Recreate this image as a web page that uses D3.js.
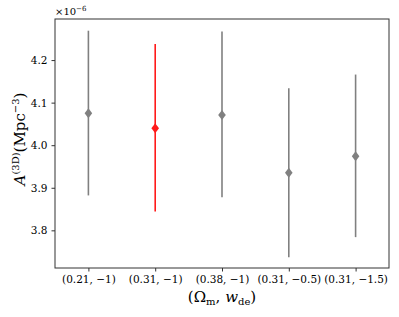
<!DOCTYPE html>
<html>
<head>
<meta charset="utf-8">
<script src="https://cdn.jsdelivr.net/npm/d3@7"></script>
<style>
body { margin: 0; background: #fff; }
text { font-family: "DejaVu Serif", "Liberation Serif", serif; fill: #000; }
</style>
</head>
<body>
<div id="chart"></div>
<script>
const categories = ["(0.21, \u22121)", "(0.31, \u22121)", "(0.38, \u22121)", "(0.31, \u22120.5)", "(0.31, \u22121.5)"];
const values = [4.075, 4.040, 4.071, 3.935, 3.974];
const errLow = [3.882, 3.844, 3.878, 3.737, 3.784];
const errHigh = [4.269, 4.238, 4.267, 4.134, 4.166];
const colors = ["#808080", "#ff1a1a", "#808080", "#808080", "#808080"];
const yTicks = [3.8, 3.9, 4.0, 4.1, 4.2];

const width = 399, height = 317;
const margin = { top: 19, right: 10, bottom: 49, left: 55 };

const svg = d3.select("#chart").append("svg")
    .attr("width", width)
    .attr("height", height);

const x = d3.scaleLinear()
    .domain([-0.5, categories.length - 0.5])
    .range([margin.left, width - margin.right]);

const y = d3.scaleLinear()
    .domain([3.7115, 4.2965])
    .range([height - margin.bottom, margin.top]);

const data = categories.map((c, i) => ({ c, i, v: values[i], lo: errLow[i], hi: errHigh[i], col: colors[i] }));

// error bars
svg.selectAll("line.err")
    .data(data)
    .enter()
    .append("line")
    .attr("class", "err")
    .attr("x1", d => x(d.i))
    .attr("x2", d => x(d.i))
    .attr("y1", d => y(d.lo))
    .attr("y2", d => y(d.hi))
    .attr("stroke", d => d.col)
    .attr("stroke-width", 1.6);

// thin diamond markers
svg.selectAll("path.mark")
    .data(data)
    .enter()
    .append("path")
    .attr("class", "mark")
    .attr("d", "M0,-5L3.8,0L0,5L-3.8,0Z")
    .attr("transform", d => `translate(${x(d.i)},${y(d.v)})`)
    .attr("fill", d => d.col);

// frame
svg.append("rect")
    .attr("x", margin.left)
    .attr("y", margin.top)
    .attr("width", width - margin.right - margin.left)
    .attr("height", height - margin.bottom - margin.top)
    .attr("fill", "none")
    .attr("stroke", "#333")
    .attr("stroke-width", 1);

// x axis
const xAxis = svg.append("g")
    .attr("transform", `translate(0,${height - margin.bottom})`)
    .call(d3.axisBottom(x)
        .tickValues(d3.range(categories.length))
        .tickFormat(i => categories[i])
        .tickSize(3.5)
        .tickPadding(4));
xAxis.select(".domain").remove();
xAxis.selectAll("line").attr("stroke", "#333");
xAxis.selectAll("text").style("font-size", "10.5px");

// y axis
const yAxis = svg.append("g")
    .attr("transform", `translate(${margin.left},0)`)
    .call(d3.axisLeft(y)
        .tickValues(yTicks)
        .tickFormat(d3.format(".1f"))
        .tickSize(3.5)
        .tickPadding(4));
yAxis.select(".domain").remove();
yAxis.selectAll("line").attr("stroke", "#333");
yAxis.selectAll("text").style("font-size", "10.5px");

// offset text
const off = svg.append("text")
    .attr("x", margin.left)
    .attr("y", margin.top - 4)
    .style("font-size", "10px");
off.append("tspan").text("\u00d710");
off.append("tspan").attr("dy", -4).style("font-size", "7px").text("\u22126");

// x label
const xl = svg.append("text")
    .attr("x", (margin.left + width - margin.right) / 2)
    .attr("y", 302)
    .attr("text-anchor", "middle")
    .style("font-size", "15px");
xl.append("tspan").text("(\u03a9");
xl.append("tspan").attr("dy", 3).style("font-size", "10px").text("m");
xl.append("tspan").attr("dy", -3).text(", ");
xl.append("tspan").style("font-style", "italic").text("w");
xl.append("tspan").attr("dy", 3).style("font-size", "10px").text("de");
xl.append("tspan").attr("dy", -3).text(")");

// y label
const yl = svg.append("text")
    .attr("transform", `translate(25,139) rotate(-90)`)
    .attr("text-anchor", "middle")
    .style("font-size", "15px");
yl.append("tspan").style("font-style", "italic").text("A");
yl.append("tspan").attr("dy", -6).style("font-size", "10px").text("(3D)");
yl.append("tspan").attr("dy", 6).text("(Mpc");
yl.append("tspan").attr("dy", -6).style("font-size", "10px").text("\u22123");
yl.append("tspan").attr("dy", 6).text(")");
</script>
</body>
</html>
